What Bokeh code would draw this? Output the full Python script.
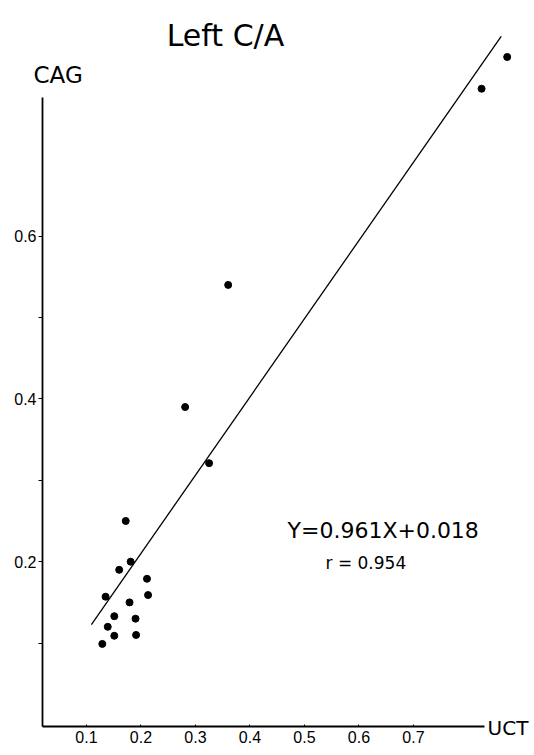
from bokeh.plotting import figure
from bokeh.models import Label, FixedTicker, Range1d, LinearAxis
from bokeh.embed import file_html
from bokeh.resources import INLINE

# ---- data ----
uct = [0.129, 0.151, 0.139, 0.151, 0.135, 0.160, 0.181, 0.172, 0.211,
       0.213, 0.179, 0.190, 0.191, 0.281, 0.325, 0.360, 0.825, 0.872]
cag = [0.099, 0.109, 0.120, 0.133, 0.157, 0.190, 0.200, 0.250, 0.179,
       0.159, 0.150, 0.130, 0.110, 0.390, 0.321, 0.540, 0.781, 0.820]

slope = 0.961
intercept = 0.018
fit_x = [0.109, 0.861]
fit_y = [slope * v + intercept for v in fit_x]

x_ticks = [0.1, 0.2, 0.3, 0.4, 0.5, 0.6, 0.7]
y_ticks = [0.2, 0.4, 0.6]
y_minor_ticks = [0.1, 0.3, 0.5]

title_text = "Left C/A"
x_title = "UCT"
y_title = "CAG"
eq_text = "Y=0.961X+0.018"
r_text = "r = 0.954"

NUM_FONT = "Liberation Sans"
TXT_FONT = "DejaVu Sans"

X_AXIS_AT = 0.0193   # x value where the vertical axis stands
Y_AXIS_AT = -0.003   # y value where the horizontal axis stands
p = figure(width=534, height=755,
           x_range=Range1d(-0.0578, 0.9221), y_range=Range1d(-0.0381, 0.8894),
           x_axis_type=None, y_axis_type=None,
           output_backend="svg", toolbar_location=None, min_border=0)
p.outline_line_color = None
p.background_fill_color = "white"
p.border_fill_color = "white"

# x axis
xa = LinearAxis(fixed_location=Y_AXIS_AT)
xa.ticker = FixedTicker(ticks=x_ticks)
xa.bounds = (X_AXIS_AT, 0.830)
xa.axis_line_color = "black"
xa.axis_line_width = 1.8
xa.major_tick_in = 2
xa.major_tick_out = 0
xa.major_tick_line_color = "black"
xa.minor_tick_line_color = None
xa.major_label_standoff = 4
xa.major_label_text_font = NUM_FONT
xa.major_label_text_font_size = "16px"
xa.major_label_text_color = "black"
p.add_layout(xa, "below")

# y axis
ya = LinearAxis(fixed_location=X_AXIS_AT)
ya.ticker = FixedTicker(ticks=y_ticks, minor_ticks=y_minor_ticks)
ya.bounds = (Y_AXIS_AT, 0.77)
ya.axis_line_color = "black"
ya.axis_line_width = 1.8
ya.major_tick_in = 0
ya.major_tick_out = 4
ya.minor_tick_in = 0
ya.minor_tick_out = 4
ya.major_tick_line_color = "black"
ya.minor_tick_line_color = "black"
ya.major_label_standoff = 2
ya.major_label_text_font = NUM_FONT
ya.major_label_text_font_size = "16px"
ya.major_label_text_color = "black"
p.add_layout(ya, "left")

# regression line and points
p.line(fit_x, fit_y, line_color="black", line_width=1.3)
p.scatter(uct, cag, size=7, fill_color="black", line_color="black")

# texts
def add_text(x, y, text, size, font, align="left"):
    p.add_layout(Label(x=x, y=y, text=text, text_align=align,
                       text_baseline="middle", text_font=font,
                       text_font_size=size, text_color="black"))

add_text(0.3550, 0.8464, title_text, "30px", TXT_FONT, align="center")
add_text(0.0028, 0.798, y_title, "23px", TXT_FONT)
add_text(0.836, -0.0049, x_title, "20px", TXT_FONT)
add_text(0.4689, 0.2377, eq_text, "22px", TXT_FONT)
add_text(0.5386, 0.1984, r_text, "17px", TXT_FONT)

open("out.html", "w").write(file_html(p, INLINE))
